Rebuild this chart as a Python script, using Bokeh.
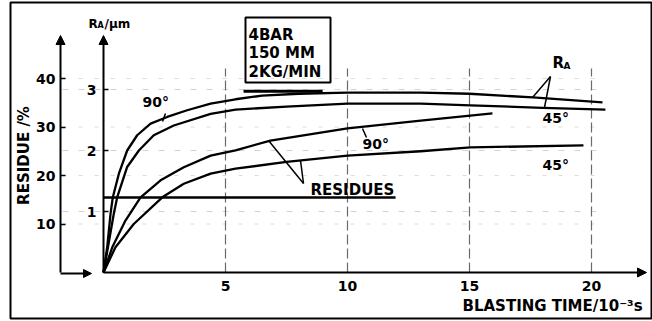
import math
from bokeh.plotting import figure
from bokeh.models import Range1d, LinearAxis, FixedTicker, Arrow, NormalHead, BoxAnnotation
from bokeh.core.properties import value
from bokeh.embed import file_html
from bokeh.resources import INLINE

# ---------------- data ----------------
x_ticks = [5, 10, 15, 20]
ra_ticks = [1, 2, 3]
res_ticks = [10, 20, 30, 40]

# R_A (um) vs blasting time, 90 deg
ra90_t = [0, 0.15, 0.29, 0.38, 0.63, 0.97, 1.38, 1.93, 2.61, 3.43, 4.39, 5.41, 6.5, 8.0, 10.0, 13.0, 15.0, 17.6, 20.45]
ra90_v = [0, 0.41, 0.97, 1.23, 1.62, 2.00, 2.25, 2.44, 2.55, 2.66, 2.77, 2.84, 2.90, 2.93, 2.95, 2.95, 2.93, 2.87, 2.79]
# R_A (um) vs blasting time, 45 deg
ra45_t = [0, 0.18, 0.42, 0.56, 0.97, 1.45, 2.06, 2.88, 4.39, 5.41, 7.5, 10.0, 13.0, 15.04, 18.0, 20.57]
ra45_v = [0, 0.41, 0.96, 1.23, 1.73, 2.00, 2.25, 2.41, 2.60, 2.67, 2.72, 2.77, 2.77, 2.74, 2.70, 2.67]
# residue (%) vs blasting time, 90 deg
res90_t = [0, 0.36, 0.9, 1.52, 2.34, 3.29, 4.39, 5.41, 6.84, 10.0, 13.0, 15.94]
res90_v = [0, 5.2, 10.7, 15.5, 19.0, 21.7, 24.1, 25.2, 27.2, 29.7, 31.3, 32.8]
# residue (%) vs blasting time, 45 deg
res45_t = [0, 0.49, 1.24, 2.41, 3.29, 4.39, 5.41, 7.5, 10.0, 13.0, 15.04, 19.67]
res45_v = [0, 5.2, 10.0, 15.5, 18.3, 20.4, 21.4, 22.8, 24.1, 25.0, 25.8, 26.2]
# horizontal reference line labelled "RESIDUES" (R_A units)
ref_t = [0, 11.97]
ref_v = [1.23, 1.23]
# heavy segment under the condition box
heavy_t = [5.74, 8.98]
heavy_v = [2.97, 2.97]

# ---------------- geometry helpers (pixel -> data) ----------------
X0, PXU = 103.0, 24.4      # x pixel of t=0, pixels per time unit
Y0, PYU = 272.0, 61.0      # y pixel of R_A=0, pixels per um
RPU = 4.85                 # pixels per % residue
FL, FR, FT, FB = 10, 651, 2, 318

def X(px):
    return (px - X0) / PXU

def Y(py):
    return (Y0 - py) / PYU

p = figure(width=652, height=321, output_backend="svg", toolbar_location=None,
           x_range=Range1d(X(FL), X(FR)), y_range=Range1d(Y(FB), Y(FT)),
           x_axis_type=None, y_axis_type=None,
           min_border_left=FL, min_border_right=652 - FR, min_border_top=FT,
           min_border_bottom=321 - FB)
p.outline_line_color = "black"
p.outline_line_width = 2
p.background_fill_color = "white"
p.border_fill_color = "white"
p.extra_y_ranges = {"res": Range1d((Y0 - FB) / RPU, (Y0 - FT) / RPU)}

FONT = "DejaVu Sans"

# faint horizontal grid
for v in ra_ticks:
    p.line([X(62), X(600)], [v, v], line_color="#d4d4d4", line_width=1, line_dash="6 10")
for v in res_ticks:
    p.line([X(62), X(600)], [v, v], line_color="#dcdcdc", line_width=1, line_dash="4 12",
           y_range_name="res")
# vertical dashed grid
for t in x_ticks:
    p.line([t, t], [0, Y(68)], line_color="#6a6a6a", line_width=1.2, line_dash="10 4")

# axes
def style(ax, size="14px"):
    ax.major_label_text_font = FONT
    ax.major_label_text_font_style = "bold"
    ax.major_label_text_font_size = size
    ax.major_label_text_color = "black"
    ax.minor_tick_line_color = None
    ax.axis_line_color = None

xax = LinearAxis(fixed_location=0, bounds=(0, 22.2), ticker=FixedTicker(ticks=x_ticks))
style(xax)
xax.major_tick_in = 0
xax.major_tick_out = 0
xax.major_label_standoff = 8
p.add_layout(xax, "below")

raax = LinearAxis(fixed_location=0, bounds=(0, Y(36)), ticker=FixedTicker(ticks=ra_ticks))
style(raax)
raax.major_tick_in = 5
raax.major_tick_out = 0
raax.major_tick_line_width = 1.5
raax.major_label_standoff = 7
p.add_layout(raax, "left")

resax = LinearAxis(y_range_name="res", fixed_location=X(60), bounds=(0, (Y0 - 36) / RPU),
                   ticker=FixedTicker(ticks=res_ticks))
style(resax)
resax.major_tick_in = 5
resax.major_tick_out = 0
resax.major_tick_line_width = 1.5
resax.major_label_standoff = 5
p.add_layout(resax, "left")

# axis lines with arrow heads
def arrow(x0, y0, x1, y1, size=9):
    p.add_layout(Arrow(x_start=x0, y_start=y0, x_end=x1, y_end=y1, line_width=2,
                       line_color="black",
                       end=NormalHead(size=size, fill_color="black", line_color="black")))

arrow(0, 0, X(646), 0)
arrow(0, 0, 0, Y(35))
arrow(X(60), 0, X(60), Y(35))
arrow(X(60), Y(273), X(91), Y(273), size=8)

# curves
LW = 2.3
p.line(ra90_t, ra90_v, line_color="black", line_width=LW, line_join="round")
p.line(ra45_t, ra45_v, line_color="black", line_width=LW, line_join="round")
p.line(res90_t, res90_v, line_color="black", line_width=LW, line_join="round", y_range_name="res")
p.line(res45_t, res45_v, line_color="black", line_width=LW, line_join="round", y_range_name="res")
p.line(ref_t, ref_v, line_color="black", line_width=2.4)
p.line(heavy_t, heavy_v, line_color="black", line_width=3)

# pointer lines
def seg(a, b, w=1.5):
    p.line([X(a[0]), X(b[0])], [Y(a[1]), Y(b[1])], line_color="black", line_width=w)

seg((165, 113), (162, 121))
seg((366, 137), (362, 128))
seg((550, 76), (532, 97))
seg((550, 76), (544, 107))
seg((303, 183), (268, 140))
seg((303, 183), (300, 160))

# condition box
p.add_layout(BoxAnnotation(left=X(245), right=X(330), top=Y(17), bottom=Y(82),
                           fill_color=None, fill_alpha=0, line_color="black",
                           line_alpha=1.0, line_width=2))

def txt(px, py, s, size, align="left", angle=0.0, style="bold"):
    p.text([X(px)], [Y(py)], text=[s], text_font=value(FONT), text_font_style=style,
           text_font_size=size, text_align=align, text_baseline="middle",
           text_color="black", angle=angle)

txt(248, 34, "4BAR", "15px")
txt(248, 52, "150 MM", "15px")
txt(248, 71, "2KG/MIN", "15px")

txt(142, 101, "90°", "14px")
txt(362, 143, "90°", "14px")
txt(542, 117, "45°", "14px")
txt(542, 164, "45°", "14px")
txt(310, 189, "RESIDUES", "15px")
txt(552, 62, "R", "15px")
txt(563, 65, "A", "9px")

txt(88, 23, "R", "12px")
txt(97, 25, "A", "8px")
txt(104, 23, "/μm", "12px")

txt(23, 155, "RESIDUE /%", "15px", align="center", angle=math.pi / 2)
txt(462, 305, "BLASTING TIME/10⁻³s", "15px")

open("out.html", "w").write(file_html(p, INLINE))
